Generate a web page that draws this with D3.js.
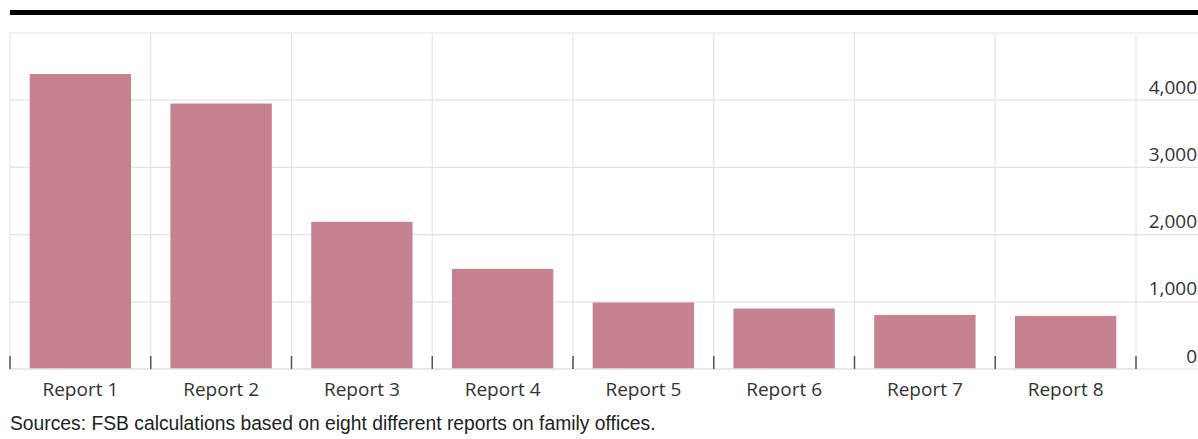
<!DOCTYPE html>
<html>
<head>
<meta charset="utf-8">
<script src="https://cdn.jsdelivr.net/npm/d3@7"></script>
<style>
  body { margin: 0; background: #fff; }
  svg { display: block; }
</style>
</head>
<body>
<svg id="chart" width="1198" height="439"></svg>
<script>
const categories = ["Report 1", "Report 2", "Report 3", "Report 4", "Report 5", "Report 6", "Report 7", "Report 8"];
const values = [4390, 3950, 2190, 1490, 990, 900, 805, 790];
const yTicks = [0, 1000, 2000, 3000, 4000];
const sourceNote = "Sources: FSB calculations based on eight different reports on family offices.";

const svg = d3.select("#chart");
const margin = { left: 10, right: 62, top: 33, bottom: 70 };
const W = 1198, H = 439;
const x0 = margin.left, x1 = W - margin.right;
const yTop = margin.top, yBase = H - margin.bottom;

const x = d3.scaleBand().domain(categories).range([x0, x1]).paddingInner(0.28).paddingOuter(0.14);
const y = d3.scaleLinear().domain([0, 5000]).range([yBase, yTop]);

// heavy rule above the chart
svg.append("rect").attr("x", 10).attr("y", 10).attr("width", W - 10).attr("height", 5).attr("fill", "#000");

const grid = svg.append("g").attr("stroke", "#e4e4e4").attr("stroke-width", 1.2);
// horizontal gridlines (including top border at 5000)
grid.selectAll("line.h").data([...yTicks, 5000]).join("line")
  .attr("x1", x0).attr("x2", W)
  .attr("y1", d => y(d)).attr("y2", d => y(d));

// vertical category separators
const bounds = d3.range(categories.length + 1).map(i => x0 + i * (x1 - x0) / categories.length);
grid.selectAll("line.v").data(bounds).join("line")
  .attr("x1", d => d).attr("x2", d => d)
  .attr("y1", yTop).attr("y2", yBase);

// bars
svg.append("g").selectAll("rect").data(values).join("rect")
  .attr("x", (d, i) => x(categories[i]))
  .attr("width", x.bandwidth())
  .attr("y", d => y(d))
  .attr("height", d => yBase - y(d))
  .attr("fill", "#c78292");

// baseline
svg.append("line").attr("x1", x0).attr("x2", x1).attr("y1", yBase).attr("y2", yBase)
  .attr("stroke", "#e4e4e4").attr("stroke-width", 1.5);

// small ticks at category boundaries
svg.append("g").selectAll("line").data(bounds).join("line")
  .attr("x1", d => d).attr("x2", d => d)
  .attr("y1", yBase - 13).attr("y2", yBase)
  .attr("stroke", "#555").attr("stroke-width", 1.5);

// y-axis labels on the right
const fmt = d3.format(",");
svg.append("g").selectAll("text").data(yTicks).join("text")
  .attr("x", 1197).attr("y", d => y(d) - 6.5)
  .attr("text-anchor", "end")
  .attr("font-family", "'Open Sans', 'Noto Sans', sans-serif")
  .attr("font-size", 19).attr("fill", "#333")
  .text(d => fmt(d));

// category labels
svg.append("g").selectAll("text").data(categories).join("text")
  .attr("x", d => x(d) + x.bandwidth() / 2).attr("y", yBase + 27)
  .attr("text-anchor", "middle")
  .attr("font-family", "'Open Sans', 'Noto Sans', sans-serif")
  .attr("font-size", 19).attr("fill", "#333")
  .text(d => d);

// source note
svg.append("text").attr("x", 10).attr("y", 429.5)
  .attr("font-family", "'Liberation Sans', Arial, sans-serif")
  .attr("font-size", 19.3).attr("fill", "#222")
  .text(sourceNote);
</script>
</body>
</html>
